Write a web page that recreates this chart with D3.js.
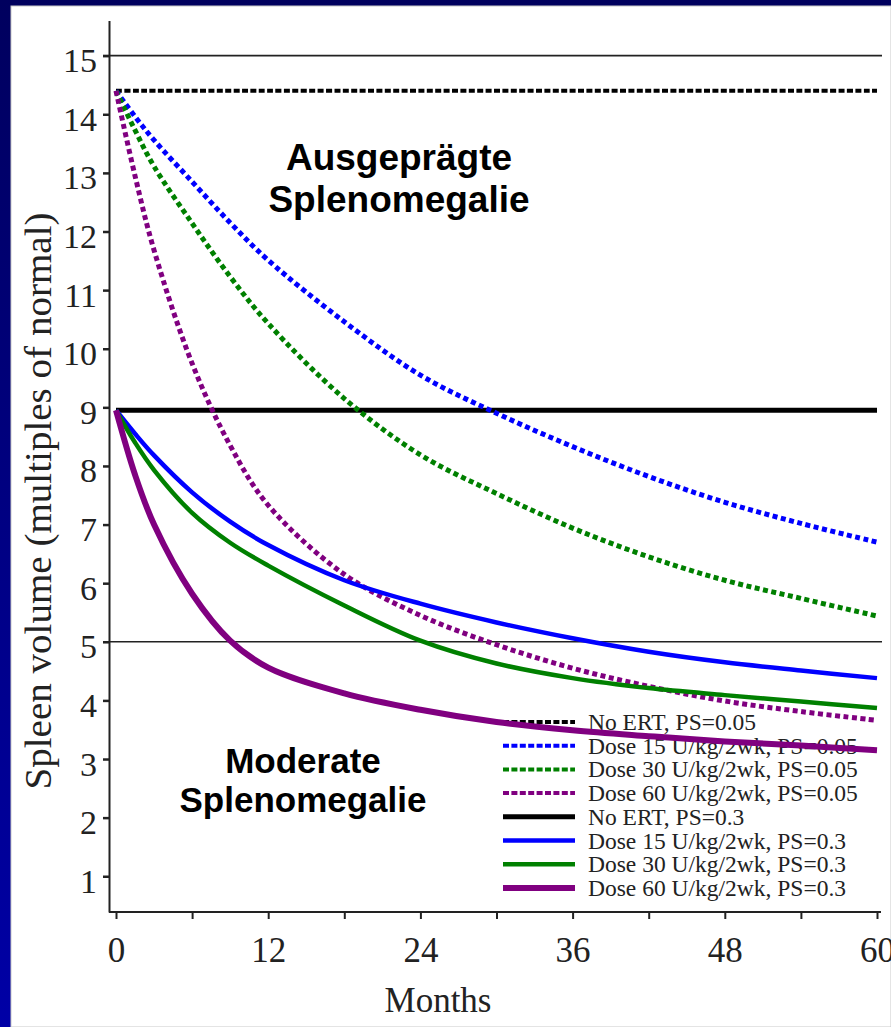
<!DOCTYPE html>
<html>
<head>
<meta charset="utf-8">
<script src="https://cdn.jsdelivr.net/npm/d3@7"></script>
<style>
    html, body { margin: 0; padding: 0; background: #000080; }
    svg { display: block; }
</style>
</head>
<body>
<div id="chart"></div>
<script>
// months sampled off the curves
var months = [0, 1.5, 3, 6, 9, 12, 18, 24, 30, 36, 42, 48, 54, 60];

// PS = 0.05
var noErtPs005   = [14.4, 14.4, 14.4, 14.4, 14.4, 14.4, 14.4, 14.4, 14.4, 14.4, 14.4, 14.4, 14.4, 14.4];
var dose15Ps005  = [14.4, 13.96, 13.56, 12.85, 12.15, 11.51, 10.46, 9.55, 8.90, 8.33, 7.82, 7.38, 7.02, 6.70];
var dose30Ps005  = [14.4, 13.73, 13.11, 12.14, 11.23, 10.43, 9.15, 8.19, 7.53, 6.94, 6.45, 6.05, 5.74, 5.44];
var dose60Ps005  = [14.4, 12.95, 11.68, 9.75, 8.35, 7.33, 6.15, 5.45, 4.95, 4.55, 4.24, 3.99, 3.81, 3.66];

// PS = 0.3
var noErtPs03    = [8.95, 8.95, 8.95, 8.95, 8.95, 8.95, 8.95, 8.95, 8.95, 8.95, 8.95, 8.95, 8.95, 8.95];
var dose15Ps03   = [8.95, 8.55, 8.18, 7.55, 7.05, 6.65, 6.05, 5.65, 5.33, 5.06, 4.83, 4.65, 4.51, 4.38];
var dose30Ps03   = [8.95, 8.40, 7.93, 7.20, 6.69, 6.30, 5.62, 5.02, 4.63, 4.38, 4.21, 4.09, 3.98, 3.87];
var dose60Ps03   = [8.95, 7.85, 7.00, 5.82, 5.02, 4.56, 4.12, 3.84, 3.63, 3.49, 3.39, 3.30, 3.23, 3.15];

var seriesLabels = [
    "No ERT, PS=0.05",
    "Dose 15 U/kg/2wk, PS=0.05",
    "Dose 30 U/kg/2wk, PS=0.05",
    "Dose 60 U/kg/2wk, PS=0.05",
    "No ERT, PS=0.3",
    "Dose 15 U/kg/2wk, PS=0.3",
    "Dose 30 U/kg/2wk, PS=0.3",
    "Dose 60 U/kg/2wk, PS=0.3"
];
var seriesValues = [noErtPs005, dose15Ps005, dose30Ps005, dose60Ps005,
                    noErtPs03, dose15Ps03, dose30Ps03, dose60Ps03];

var yTickValues = [1, 2, 3, 4, 5, 6, 7, 8, 9, 10, 11, 12, 13, 14, 15];
var xTickValues = [0, 6, 12, 18, 24, 30, 36, 42, 48, 54, 60];
var xTickLabels = [0, 12, 24, 36, 48, 60];
var thresholdLevels = [15, 5];
var annotationTop = ["Ausgeprägte", "Splenomegalie"];
var annotationBottom = ["Moderate", "Splenomegalie"];

var xLabel = "Months",
    yLabel = "Spleen volume (multiples of normal)";

// styles, same order as the series
var seriesStyle = [
    {color: "#000000", dash: "6,2.4", width: 4},
    {color: "#0000ff", dash: "5,3.5", width: 5},
    {color: "#008000", dash: "5,3.5", width: 5},
    {color: "#800080", dash: "5,3.5", width: 5},
    {color: "#000000", dash: null, width: 5},
    {color: "#0000ff", dash: null, width: 4.5},
    {color: "#008000", dash: null, width: 4.5},
    {color: "#800080", dash: null, width: 6}
];

var outerWidth = 891,
    outerHeight = 1027,
    serif = "'Liberation Serif', 'Times New Roman', serif",
    sans = "'Liberation Sans', Arial, sans-serif";

var svg = d3.select("#chart").append("svg")
    .attr("width", outerWidth)
    .attr("height", outerHeight);

// slide background
var grad = svg.append("defs").append("linearGradient")
    .attr("id", "slideBg")
    .attr("x1", 0).attr("y1", 0).attr("x2", 0).attr("y2", 1);
grad.append("stop").attr("offset", "0%").attr("stop-color", "#00005e");
grad.append("stop").attr("offset", "100%").attr("stop-color", "#0000a6");

svg.append("rect")
    .attr("width", outerWidth).attr("height", outerHeight)
    .attr("fill", "url(#slideBg)");
svg.append("rect")
    .attr("x", 11).attr("y", 6)
    .attr("width", outerWidth - 11).attr("height", outerHeight - 6)
    .attr("fill", "#ffffff")
    .attr("stroke", "#c8c8c8")
    .attr("stroke-width", 1);

var x = d3.scaleLinear().domain([0, 60]).range([116, 877]);
var y = d3.scaleLinear().domain([0.39, 15.6]).range([912, 20.5]);
var axisX = 109;

// axes
var yAxis = d3.axisLeft(y)
    .tickValues(yTickValues)
    .tickSize(6)
    .tickSizeOuter(0)
    .tickPadding(6);

var gy = svg.append("g")
    .attr("transform", "translate(" + axisX + ",0)")
    .call(yAxis);
gy.select(".domain").attr("stroke", "#222").attr("stroke-width", 2);
gy.selectAll(".tick line").attr("stroke", "#222").attr("stroke-width", 2.5);
gy.selectAll(".tick text")
    .attr("dy", "0.47em")
    .style("font-family", serif)
    .style("font-size", "34px")
    .attr("fill", "#222");

var xAxis = d3.axisBottom(x)
    .tickValues(xTickValues)
    .tickSize(7)
    .tickSizeOuter(0)
    .tickFormat(function (d) { return xTickLabels.indexOf(d) >= 0 ? d : ""; });

var gx = svg.append("g")
    .attr("transform", "translate(0," + y(0.39) + ")")
    .call(xAxis);
gx.select(".domain").remove();
gx.append("line")
    .attr("x1", axisX).attr("x2", x(60) + 4)
    .attr("stroke", "#222").attr("stroke-width", 2);
gx.selectAll(".tick line").attr("stroke", "#222").attr("stroke-width", 2);
gx.selectAll(".tick text")
    .attr("y", 50)
    .attr("dy", 0)
    .style("font-family", serif)
    .style("font-size", "35px")
    .attr("fill", "#222");

svg.append("text")
    .attr("x", 438).attr("y", 1012)
    .attr("text-anchor", "middle")
    .style("font-family", serif)
    .style("font-size", "35px")
    .attr("fill", "#222")
    .text(xLabel);

svg.append("text")
    .attr("transform", "translate(51,501) rotate(-90)")
    .attr("text-anchor", "middle")
    .attr("textLength", 577)
    .attr("lengthAdjust", "spacingAndGlyphs")
    .style("font-family", serif)
    .style("font-size", "37px")
    .attr("fill", "#222")
    .text(yLabel);

// thin threshold lines at 15 and 5
svg.append("g").selectAll("line")
    .data(thresholdLevels)
    .enter().append("line")
    .attr("x1", axisX - 6).attr("x2", x(60) + 5)
    .attr("y1", function (d) { return y(d); })
    .attr("y2", function (d) { return y(d); })
    .attr("stroke", "#222")
    .attr("stroke-width", 1.6);

// legend (drawn under the curves, as in the original)
var legend = svg.append("g").attr("transform", "translate(503,722)");
var rows = legend.selectAll("g")
    .data(seriesLabels)
    .enter().append("g")
    .attr("transform", function (d, i) { return "translate(0," + (i * 23.7) + ")"; });
rows.append("line")
    .attr("x1", 0).attr("x2", 72)
    .attr("stroke", function (d, i) { return seriesStyle[i].color; })
    .attr("stroke-width", function (d, i) { return seriesStyle[i].dash ? 4 : seriesStyle[i].width; })
    .attr("stroke-dasharray", function (d, i) { return seriesStyle[i].dash ? "6,2.4" : null; });
rows.append("text")
    .attr("x", 85).attr("y", 8)
    .style("font-family", serif)
    .style("font-size", "23.5px")
    .attr("fill", "#222")
    .text(function (d) { return d; });

// curves: reference lines first, then dotted, then solid
var line = d3.line()
    .x(function (d) { return x(d[0]); })
    .y(function (d) { return y(d[1]); })
    .curve(d3.curveCatmullRom.alpha(0.5));

var drawOrder = [0, 4, 1, 2, 3, 5, 6, 7];
svg.append("g").selectAll("path")
    .data(drawOrder)
    .enter().append("path")
    .attr("d", function (s) { return line(d3.zip(months, seriesValues[s])); })
    .attr("fill", "none")
    .attr("stroke", function (s) { return seriesStyle[s].color; })
    .attr("stroke-width", function (s) { return seriesStyle[s].width; })
    .attr("stroke-dasharray", function (s) { return seriesStyle[s].dash; });

// region annotations
function annotate(lines, cx, baseline, size, gap) {
    svg.append("g").selectAll("text")
        .data(lines)
        .enter().append("text")
        .attr("x", cx)
        .attr("y", function (d, i) { return baseline + i * gap; })
        .attr("text-anchor", "middle")
        .style("font-family", sans)
        .style("font-weight", "bold")
        .style("font-size", size + "px")
        .attr("fill", "#000")
        .text(function (d) { return d; });
}
annotate(annotationTop, 399, 170, 37, 42);
annotate(annotationBottom, 303, 773, 35, 39);
</script>
</body>
</html>
